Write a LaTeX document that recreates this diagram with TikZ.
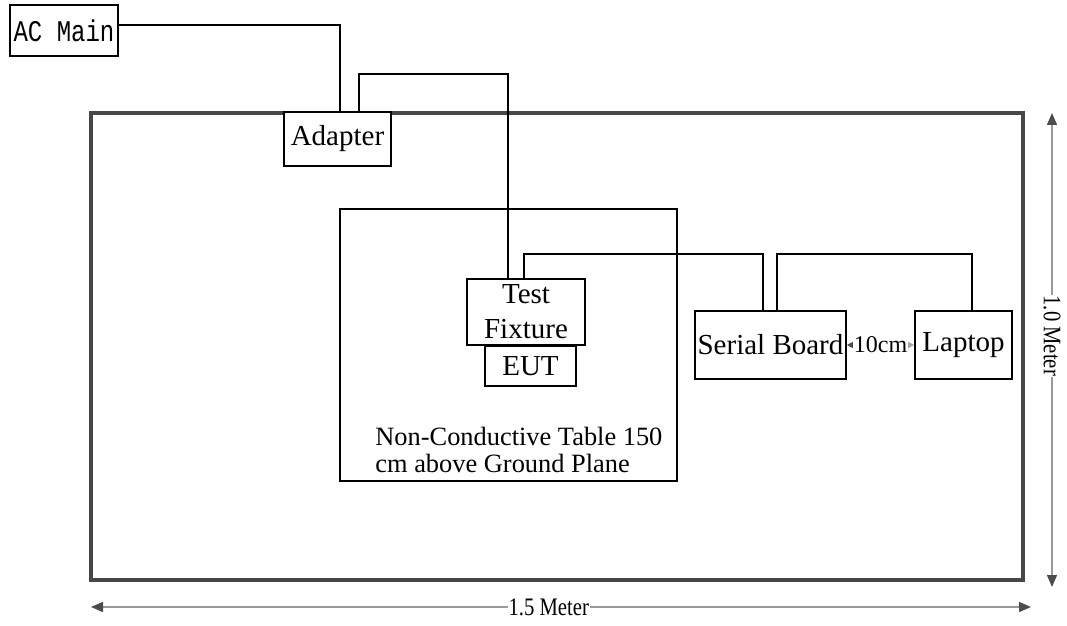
\documentclass[tikz,border=0pt]{standalone}
\usepackage{fontspec}
\setmainfont{Liberation Serif}
\newfontfamily\acfont[FakeStretch=0.8]{Liberation Mono}
\newfontfamily\dimfont[FakeStretch=0.82]{Liberation Serif}
\usetikzlibrary{arrows.meta}
\begin{document}
\begin{tikzpicture}[x=0.5pt, y=-0.5pt,
        unit/.style = {draw, fill=white, line width=0.8pt, inner sep=0pt, align=center, font=\fontsize{14.5}{17.5}\selectfont},
        wire/.style = {line width=0.8pt},
        plane/.style = {draw=black!72, line width=1.7pt, inner sep=0pt},
        dim/.style = {draw=black!40, line width=0.7pt, {Triangle[length=6pt,width=5pt,color=black!70]}-{Triangle[length=6pt,width=5pt,color=black!70]}},
        lbl/.style = {fill=white, inner sep=0.5pt, font=\dimfont\fontsize{12.6}{14}\selectfont}]
    \useasboundingbox (0,0) rectangle (1067,626);
    % ground plane and table
    \node[plane, minimum width=466pt, minimum height=233.5pt] (plane) at (557,346.5) {};
    \node[draw, line width=0.8pt, inner sep=0pt, minimum width=168.5pt, minimum height=136pt] (table) at (508.5,345) {};
    \node[anchor=west, align=left, inner sep=0pt, font=\fontsize{13.2}{13.5}\selectfont] (note) at (375,450)
        {Non-Conductive Table 150\\cm above Ground Plane};
    % units
    \node[unit, minimum width=54pt, minimum height=25.5pt, font=\acfont\fontsize{15}{17}\selectfont] (ac) at (64,30.5) {AC Main};
    \node[unit, minimum width=53.5pt, minimum height=27pt] (adapter) at (337.5,139) {Adapter};
    \node[unit, minimum width=59pt, minimum height=33pt] (fixture) at (526,312) {Test\\Fixture};
    \node[unit, minimum width=45.5pt, minimum height=20pt] (eut) at (530.5,366) {EUT};
    \node[unit, minimum width=75.5pt, minimum height=34pt] (serial) at (770.5,345) {Serial Board};
    \node[unit, minimum width=48.5pt, minimum height=34pt] (laptop) at (963.5,345) {Laptop};
    % cables
    \draw[wire] ([yshift=2.75pt]ac.east) -| ([xshift=1.25pt]adapter.north);
    \draw[wire] ([xshift=10.75pt]adapter.north) -- ++(0,-37) -| ([xshift=-9pt]fixture.north);
    \draw[wire] ([xshift=-1pt]fixture.north) -- ++(0,-24) -| ([xshift=-3.75pt]serial.north);
    \draw[wire] ([xshift=3.25pt]serial.north) -- ++(0,-56) -| ([xshift=4.25pt]laptop.north);
    \draw[draw=black!40, line width=0.6pt, {Triangle[length=3pt,width=3pt,color=black!70]}-{Triangle[length=3pt,width=3pt,color=black!35]}]
        (serial.east) -- node[fill=white, inner sep=0.2pt, font=\fontsize{12}{14}\selectfont] (gap) {10cm} (laptop.west);
    % dimensions
    \coordinate (h1) at (91,607);
    \coordinate (h2) at (1031,607);
    \coordinate (v1) at (1052,113);
    \coordinate (v2) at (1052,587);
    \draw[dim] (h1) -- node[lbl, pos=0.487] (wlen) {1.5 Meter} (h2);
    \draw[dim] (v1) -- node[lbl, pos=0.47, rotate=-90] (hlen) {1.0 Meter} (v2);
\end{tikzpicture}
\end{document}
